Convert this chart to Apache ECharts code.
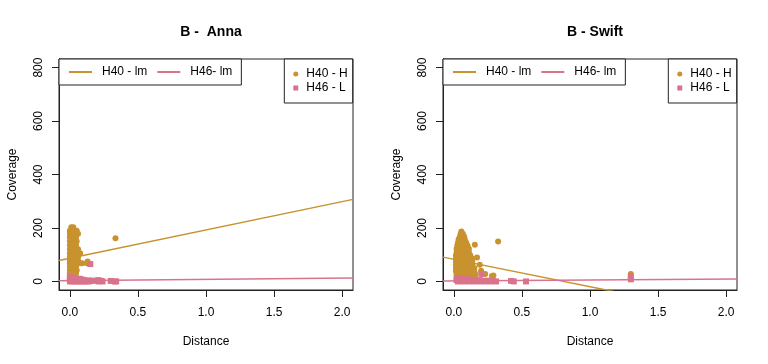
<!DOCTYPE html>
<html><head><meta charset="utf-8">
<script src="https://cdn.jsdelivr.net/npm/echarts@6/dist/echarts.min.js"></script>
<style>html,body{margin:0;padding:0;background:#fff}#c{width:768px;height:364px}</style>
</head><body><div id="c"></div>
<script>
const panelTitles = ['B -  Anna', 'B - Swift'];
const xTicks = [0, 0.5, 1, 1.5, 2];
const yTicks = [0, 200, 400, 600, 800];
const xRange = [-0.08, 2.08];
const yRange = [-32, 832];
const pointNames = ['H40 - H', 'H46 - L'];
const lineNames = ['H40 - lm', 'H46- lm'];
const xName = 'Distance';
const yName = 'Coverage';

const annaH40 = [
  [0.01,203],[0.025,203],
  [0.00,190],[0.015,190],[0.03,190],[0.05,190],
  [0.00,178],[0.015,178],[0.03,178],[0.045,178],[0.06,178],
  [0.00,165],[0.015,165],[0.03,165],[0.045,165],
  [0.00,150],[0.015,150],[0.03,150],[0.05,150],
  [0.00,135],[0.015,135],[0.03,135],[0.045,135],
  [0.00,120],[0.015,120],[0.03,120],[0.045,120],[0.06,120],
  [0.00,105],[0.015,105],[0.03,105],[0.045,105],[0.06,105],[0.075,105],
  [0.00,92],[0.015,92],[0.03,92],[0.045,92],[0.06,92],
  [0.00,78],[0.015,78],[0.03,78],[0.045,78],[0.06,78],
  [0.00,68],[0.015,68],[0.03,68],[0.045,68],[0.06,68],[0.075,68],[0.09,68],[0.125,68],
  [0.00,55],[0.015,55],[0.03,55],[0.045,55],
  [0.00,42],[0.015,42],[0.03,42],[0.05,42],
  [0.00,30],[0.015,30],[0.03,30],[0.045,30],
  [0.00,18],[0.02,18],[0.04,18],
  [0.13,75],[0.335,162]
];
const annaH46 = [
  [0.00,0],[0.00,10],[0.00,16],[0.01,5],[0.01,14],[0.02,0],[0.02,10],[0.02,15],
  [0.03,5],[0.03,12],[0.04,0],[0.04,8],[0.05,3],[0.05,10],[0.06,0],[0.06,6],
  [0.07,4],[0.07,10],[0.08,0],[0.08,8],[0.09,5],[0.10,0],[0.10,6],[0.11,3],
  [0.12,0],[0.14,4],[0.14,0],[0.15,65],[0.16,2],[0.19,3],[0.21,0],[0.21,5],
  [0.23,2],[0.24,0],[0.30,2],[0.33,0],[0.34,0]
];
const swiftH40 = [
  [0.055,187],
  [0.05,178],[0.065,178],
  [0.045,168],[0.06,168],[0.075,168],
  [0.035,158],[0.05,158],[0.065,158],[0.08,158],
  [0.03,146],[0.045,146],[0.06,146],[0.075,146],[0.09,146],
  [0.025,134],[0.04,134],[0.055,134],[0.07,134],[0.085,134],[0.10,134],
  [0.02,122],[0.035,122],[0.05,122],[0.065,122],[0.08,122],[0.095,122],[0.11,122],
  [0.02,110],[0.035,110],[0.05,110],[0.065,110],[0.08,110],[0.095,110],[0.11,110],
  [0.015,98],[0.03,98],[0.045,98],[0.06,98],[0.075,98],[0.09,98],[0.105,98],[0.12,98],
  [0.015,86],[0.03,86],[0.045,86],[0.06,86],[0.075,86],[0.09,86],[0.105,86],[0.12,86],[0.135,86],
  [0.015,74],[0.03,74],[0.045,74],[0.06,74],[0.075,74],[0.09,74],[0.105,74],[0.12,74],[0.135,74],
  [0.015,62],[0.03,62],[0.045,62],[0.06,62],[0.075,62],[0.09,62],[0.105,62],[0.12,62],[0.135,62],
  [0.015,50],[0.03,50],[0.045,50],[0.06,50],[0.075,50],[0.09,50],[0.105,50],[0.12,50],[0.135,50],[0.15,50],
  [0.015,38],[0.03,38],[0.045,38],[0.06,38],[0.075,38],[0.09,38],[0.105,38],[0.12,38],[0.135,38],[0.15,38],
  [0.02,26],[0.04,26],[0.06,26],[0.08,26],[0.10,26],[0.12,26],[0.14,26],[0.16,26],
  [0.03,15],[0.06,15],[0.09,15],[0.12,15],
  [0.154,137],[0.17,90],[0.19,62],[0.20,40],[0.23,28],[0.28,20],[0.29,22],[0.325,149],[1.30,28]
];
const swiftH46 = [
  [0.02,5],[0.02,12],[0.03,0],[0.03,8],[0.05,4],[0.05,12],[0.07,0],[0.07,8],
  [0.09,3],[0.09,10],[0.11,0],[0.11,6],[0.13,4],[0.15,0],[0.15,6],[0.17,2],
  [0.19,0],[0.19,5],[0.203,27],[0.21,2],[0.23,0],[0.25,3],[0.27,0],[0.29,2],
  [0.31,0],[0.42,2],[0.44,0],[0.53,0],[1.30,8],[1.30,18]
];
// fitted regression lines: [intercept, slope]
const annaFitH40 = [86.5, 106];
const annaFitH46 = [3, 4.6];
const swiftFitH40 = [82.8, -102.5];
const swiftFitH46 = [1.8, 3.5];

const GOLD = '#C8922E', PINK = '#D9738C';
const FONT = '"Liberation Sans", Arial, Helvetica, sans-serif';
const panels = [
  {title: panelTitles[0], h40: annaH40, h46: annaH46, f40: annaFitH40, f46: annaFitH46, left: 59},
  {title: panelTitles[1], h40: swiftH40, h46: swiftH46, f40: swiftFitH40, f46: swiftFitH46, left: 443}
];
const W = 294, H = 231, TOP = 59;
function fitLine(f) { return xRange.map(x => [x, f[0] + f[1] * x]); }

const option = {
  animation: false,
  backgroundColor: '#fff',
  textStyle: {fontFamily: FONT},
  title: panels.map(p => ({
    text: p.title, left: p.left + W / 2, top: 20, textAlign: 'center',
    textStyle: {fontFamily: FONT, fontSize: 14, fontWeight: 'bold', color: '#000'}
  })),
  grid: panels.map(p => ({left: p.left, top: TOP, width: W, height: H, show: true,
    borderColor: '#222', borderWidth: 1, backgroundColor: 'transparent'})),
  xAxis: panels.map((p, i) => ({
    type: 'value', gridIndex: i, min: xRange[0], max: xRange[1],
    name: xName, nameLocation: 'middle', nameGap: 46,
    nameTextStyle: {fontFamily: FONT, fontSize: 12, color: '#000'},
    axisLine: {show: true, onZero: false, lineStyle: {color: '#222'}}, splitLine: {show: false},
    axisTick: {show: true, inside: false, length: 7, customValues: xTicks, lineStyle: {color: '#222'}},
    axisLabel: {customValues: xTicks, margin: 17, fontFamily: FONT, fontSize: 12, color: '#000',
      formatter: v => v.toFixed(1)}
  })),
  yAxis: panels.map((p, i) => ({
    type: 'value', gridIndex: i, min: yRange[0], max: yRange[1],
    name: yName, nameLocation: 'middle', nameGap: 40, nameRotate: 90,
    nameTextStyle: {fontFamily: FONT, fontSize: 12, color: '#000'},
    axisLine: {show: true, onZero: false, lineStyle: {color: '#222'}}, splitLine: {show: false},
    axisTick: {show: true, inside: false, length: 7, customValues: yTicks, lineStyle: {color: '#222'}},
    axisLabel: {customValues: yTicks, margin: 14, rotate: 90, fontFamily: FONT, fontSize: 12, color: '#000'}
  })),
  legend: [].concat(...panels.map(p => [
    {
      orient: 'horizontal', left: p.left, top: TOP, padding: [7, 9, 7, 10],
      borderColor: '#222', borderWidth: 1, backgroundColor: '#fff',
      itemWidth: 23, itemHeight: 2, itemGap: 10, selectedMode: false,
      textStyle: {fontFamily: FONT, fontSize: 12, color: '#000', padding: [0, 0, 0, 5]},
      data: lineNames.map(n => ({name: n, icon: 'rect'}))
    },
    {
      orient: 'vertical', left: p.left + W - 68.7, top: TOP, padding: [8, 5, 8, 9],
      borderColor: '#222', borderWidth: 1, backgroundColor: '#fff',
      itemWidth: 5, itemHeight: 5, itemGap: 0, selectedMode: false,
      textStyle: {fontFamily: FONT, fontSize: 12, color: '#000', lineHeight: 14, padding: [0, 0, 0, 3]},
      data: [{name: pointNames[0], icon: 'circle'}, {name: pointNames[1], icon: 'rect'}]
    }
  ])),
  series: [].concat(...panels.map((p, i) => [
    {type: 'scatter', name: pointNames[0], xAxisIndex: i, yAxisIndex: i, data: p.h40,
      symbol: 'circle', symbolSize: 6, itemStyle: {color: GOLD, opacity: 1}, z: 2},
    {type: 'scatter', name: pointNames[1], xAxisIndex: i, yAxisIndex: i, data: p.h46,
      symbol: 'rect', symbolSize: 6, itemStyle: {color: PINK, opacity: 1}, z: 3},
    {type: 'line', name: lineNames[0], xAxisIndex: i, yAxisIndex: i, data: fitLine(p.f40),
      showSymbol: false, symbol: 'none', clip: true, color: GOLD, lineStyle: {color: GOLD, width: 1.5}, z: 4},
    {type: 'line', name: lineNames[1], xAxisIndex: i, yAxisIndex: i, data: fitLine(p.f46),
      showSymbol: false, symbol: 'none', clip: true, color: PINK, lineStyle: {color: PINK, width: 1.5}, z: 5}
  ]))
};
const chart = echarts.init(document.getElementById('c'), null, {renderer: 'canvas'});
chart.setOption(option);
</script></body></html>
